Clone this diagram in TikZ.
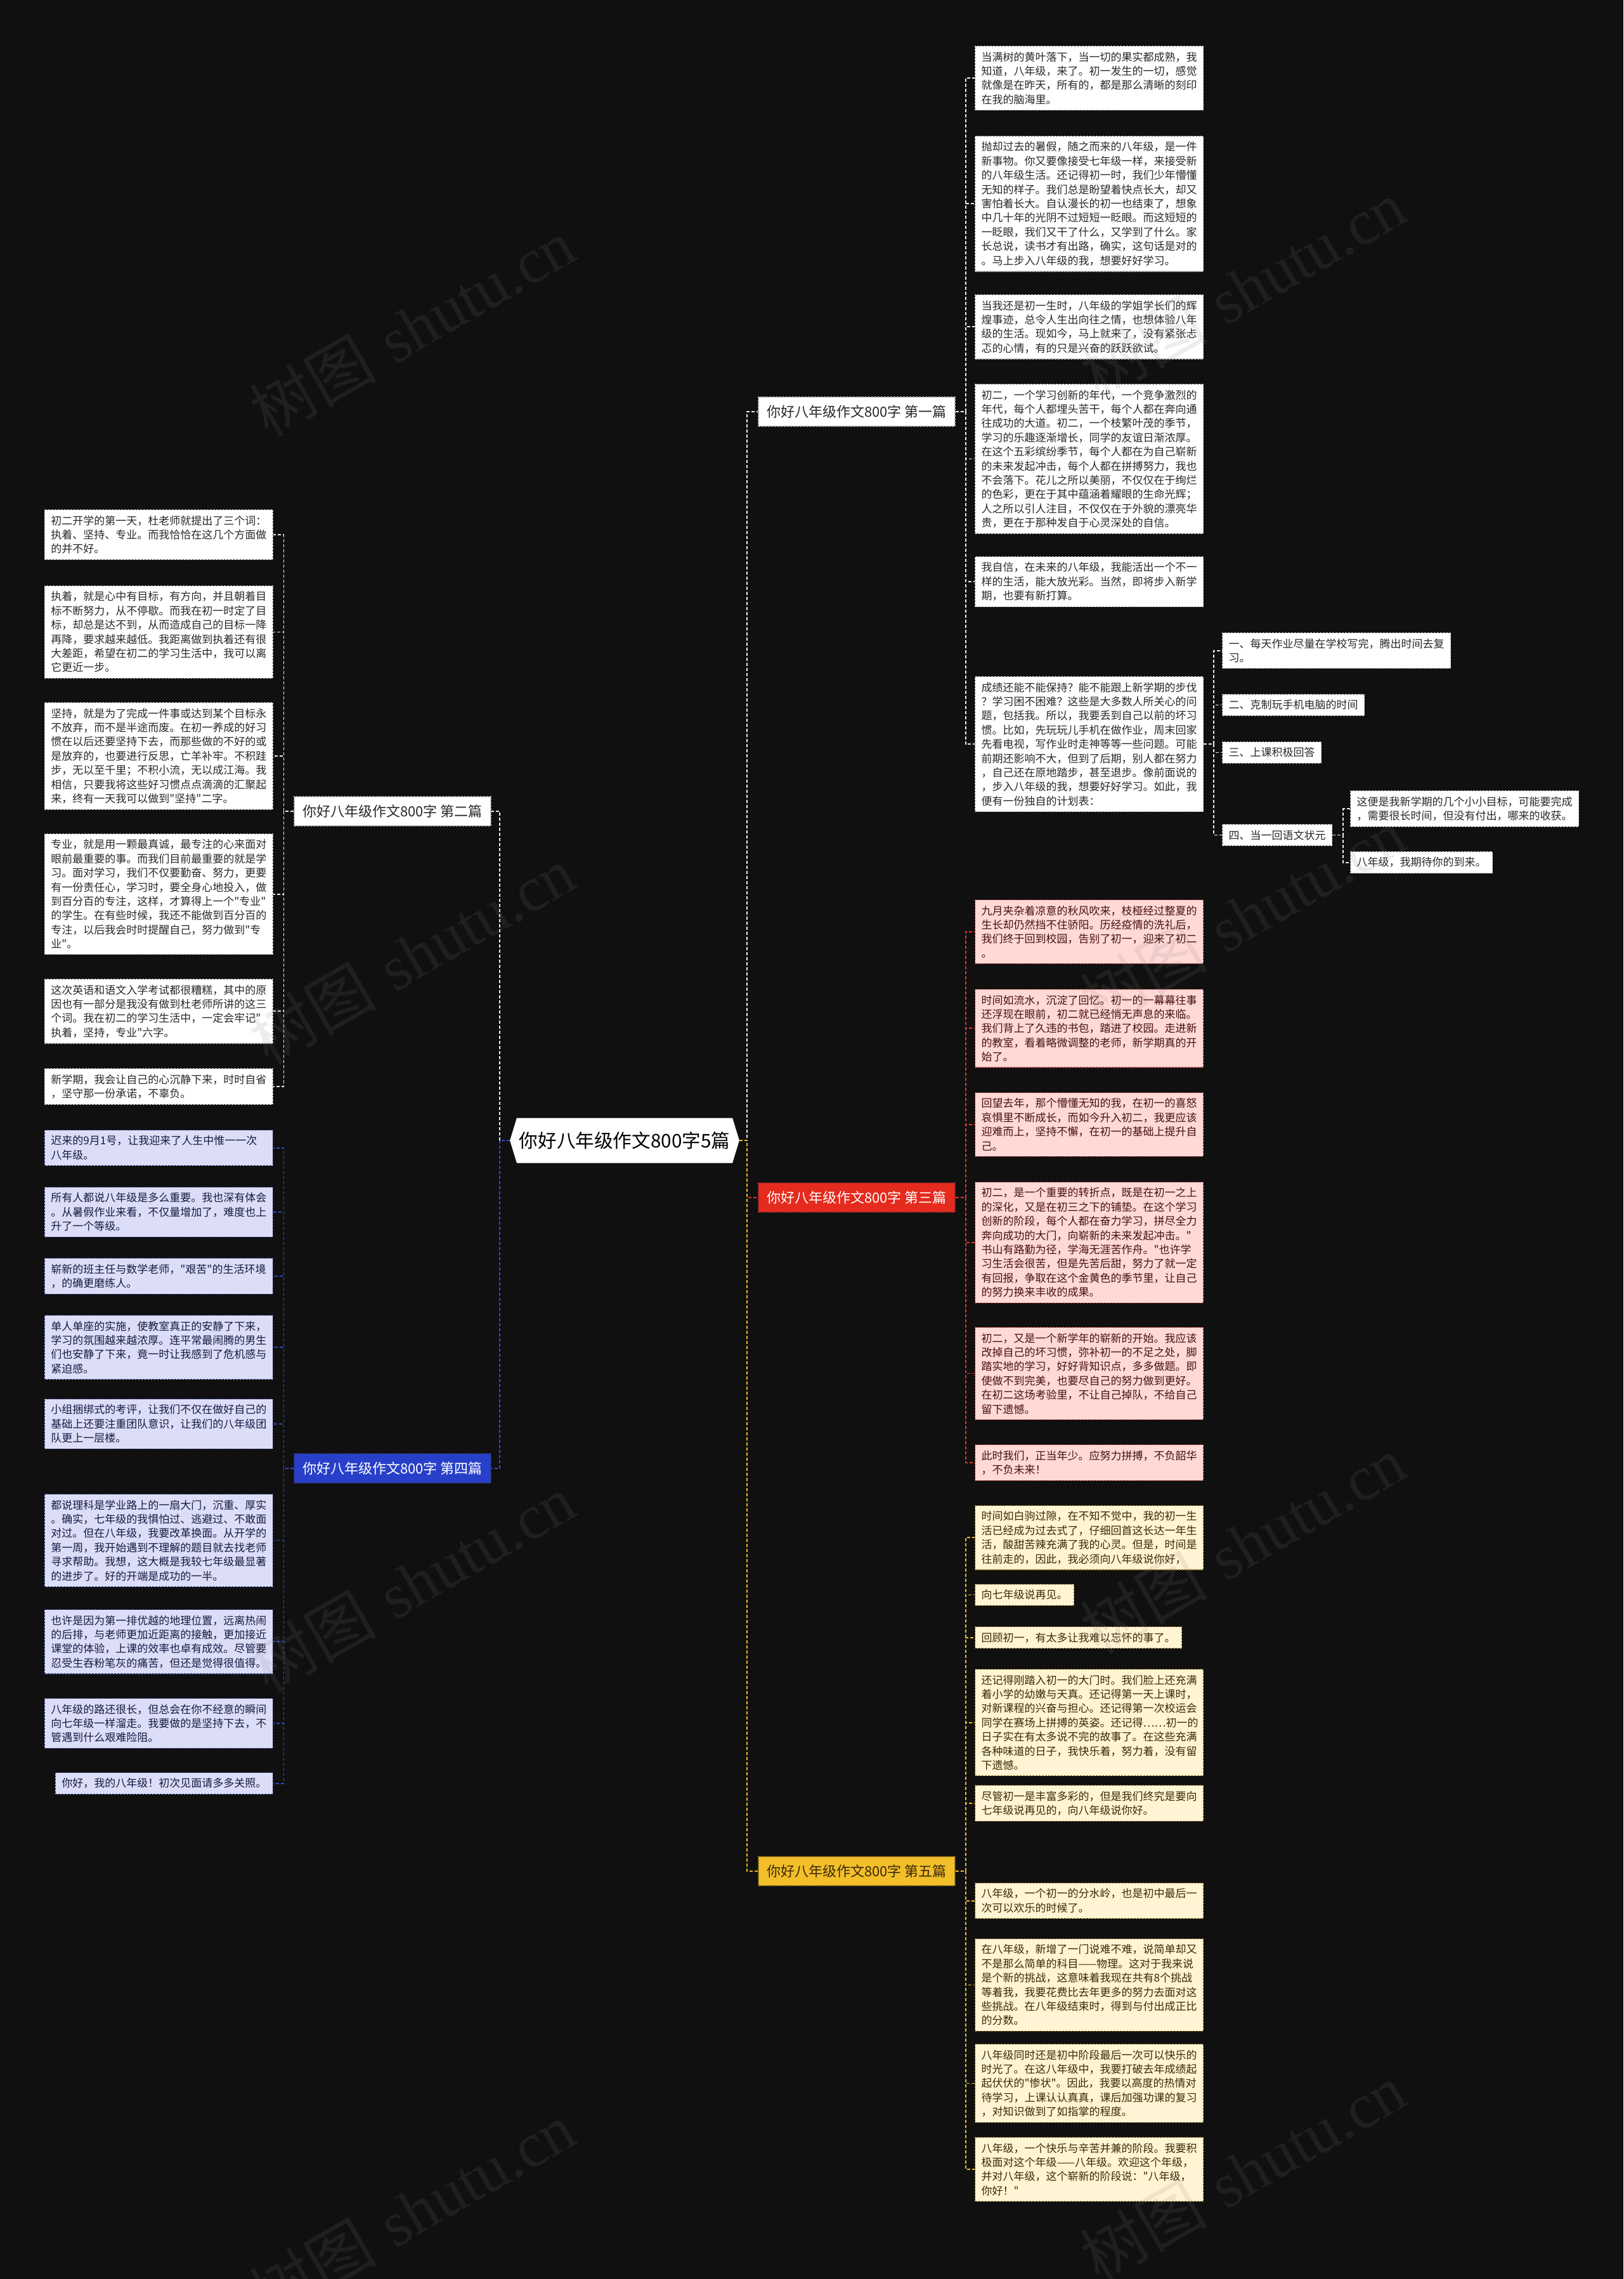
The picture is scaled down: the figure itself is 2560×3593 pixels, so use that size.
\documentclass[tikz,border=0pt]{standalone}
\usepackage{fontspec}
\newfontfamily\zhfont{Noto Sans CJK SC}
\newfontfamily\wmserif{Liberation Serif}
\usepackage{tikz}
\usetikzlibrary{shapes.symbols}

\definecolor{bgcol}{RGB}{16,16,16}
\definecolor{wline}{RGB}{235,235,235}
\definecolor{rline}{RGB}{226,52,40}
\definecolor{bline}{RGB}{47,74,208}
\definecolor{yline}{RGB}{236,186,46}
\definecolor{textdark}{RGB}{40,40,40}
\definecolor{pinkfill}{RGB}{255,217,214}
\definecolor{pinkedge}{RGB}{150,45,40}
\definecolor{pinktext}{RGB}{70,16,16}
\definecolor{yelfill}{RGB}{255,244,211}
\definecolor{yeledge}{RGB}{130,98,20}
\definecolor{yeltext}{RGB}{58,42,6}
\definecolor{bluefill}{RGB}{220,221,247}
\definecolor{blueedge}{RGB}{45,58,135}
\definecolor{bluetext}{RGB}{22,26,64}
\definecolor{redfill}{RGB}{229,42,30}
\definecolor{bluebox}{RGB}{40,64,201}
\definecolor{goldbox}{RGB}{242,190,42}

\begin{document}
\begin{tikzpicture}[x=0.5pt,y=-0.5pt,
  link/.style={dash pattern=on 2.5pt off 1.5pt,line width=0.9pt},
  leaf/.style={font=\zhfont\fontsize{8.5}{11.2}\selectfont,align=left,inner xsep=5pt,inner ysep=4.5pt,dash pattern=on 1.5pt off 1pt,line width=0.6pt,anchor=north west},
  fullw/.style={text width=170pt},
  wleaf/.style={leaf,fill=white,draw=gray!60,text=textdark},
  pleaf/.style={leaf,fill=pinkfill,draw=pinkedge,text=pinktext},
  yleaf/.style={leaf,fill=yelfill,draw=yeledge,text=yeltext},
  bleaf/.style={leaf,fill=bluefill,draw=blueedge,text=bluetext,anchor=north east},
  pian/.style={font=\zhfont\fontsize{11}{13}\selectfont,minimum width=155pt,minimum height=23pt,inner sep=0pt,dash pattern=on 1.5pt off 1pt,line width=0.6pt},
  wmark/.style={rotate=30,text=gray,opacity=0.14,font=\fontsize{50}{55}\selectfont}]
  \fill[bgcol] (0,0) rectangle (2560,3593);
  \useasboundingbox (0,0) rectangle (2560,3593);

  %root
  \node[signal,signal to=west and east,signal pointer angle=146,fill=white,text=black,
    font=\zhfont\fontsize{14.8}{17}\selectfont,minimum height=35.5pt,inner xsep=2pt] (root) at (985,1798) {你好八年级作文800字5篇};

  %branches
  \node[pian,fill=white,draw=gray!60,text=textdark] (pian1) at (1351,649) {你好八年级作文800字 第一篇};
  \node[pian,fill=white,draw=gray!60,text=textdark] (pian2) at (619,1279) {你好八年级作文800字 第二篇};
  \node[pian,fill=redfill,draw=pinkedge,text=white] (pian3) at (1351,1888) {你好八年级作文800字 第三篇};
  \node[pian,fill=bluebox,draw=blueedge,text=white] (pian4) at (619,2315) {你好八年级作文800字 第四篇};
  \node[pian,fill=goldbox,draw=yeledge,text=yeltext] (pian5) at (1351,2950) {你好八年级作文800字 第五篇};

  %first
  \node[wleaf,fullw] (a1) at (1537,72) {当满树的黄叶落下，当一切的果实都成熟，我\\知道，八年级，来了。初一发生的一切，感觉\\就像是在昨天，所有的，都是那么清晰的刻印\\在我的脑海里。};
  \node[wleaf,fullw] (a2) at (1537,214) {抛却过去的暑假，随之而来的八年级，是一件\\新事物。你又要像接受七年级一样，来接受新\\的八年级生活。还记得初一时，我们少年懵懂\\无知的样子。我们总是盼望着快点长大，却又\\害怕着长大。自认漫长的初一也结束了，想象\\中几十年的光阴不过短短一眨眼。而这短短的\\一眨眼，我们又干了什么，又学到了什么。家\\长总说，读书才有出路，确实，这句话是对的\\。马上步入八年级的我，想要好好学习。};
  \node[wleaf,fullw] (a3) at (1537,464) {当我还是初一生时，八年级的学姐学长们的辉\\煌事迹，总令人生出向往之情，也想体验八年\\级的生活。现如今，马上就来了，没有紧张忐\\忑的心情，有的只是兴奋的跃跃欲试。};
  \node[wleaf,fullw] (a4) at (1537,605) {初二，一个学习创新的年代，一个竞争激烈的\\年代，每个人都埋头苦干，每个人都在奔向通\\往成功的大道。初二，一个枝繁叶茂的季节，\\学习的乐趣逐渐增长，同学的友谊日渐浓厚。\\在这个五彩缤纷季节，每个人都在为自己崭新\\的未来发起冲击，每个人都在拼搏努力，我也\\不会落下。花儿之所以美丽，不仅仅在于绚烂\\的色彩，更在于其中蕴涵着耀眼的生命光辉；\\人之所以引人注目，不仅仅在于外貌的漂亮华\\贵，更在于那种发自于心灵深处的自信。};
  \node[wleaf,fullw] (a5) at (1537,877) {我自信，在未来的八年级，我能活出一个不一\\样的生活，能大放光彩。当然，即将步入新学\\期，也要有新打算。};
  \node[wleaf,fullw] (a6) at (1537,1066) {成绩还能不能保持？能不能跟上新学期的步伐\\？学习困不困难？这些是大多数人所关心的问\\题，包括我。所以，我要丢到自己以前的坏习\\惯。比如，先玩玩儿手机在做作业，周末回家\\先看电视，写作业时走神等等一些问题。可能\\前期还影响不大，但到了后期，别人都在努力\\，自己还在原地踏步，甚至退步。像前面说的\\，步入八年级的我，想要好好学习。如此，我\\便有一份独自的计划表：};
  \node[wleaf,fullw] (plan1) at (1927,997) {一、每天作业尽量在学校写完，腾出时间去复\\习。};
  \node[wleaf] (plan2) at (1927,1094) {二、克制玩手机电脑的时间};
  \node[wleaf] (plan3) at (1927,1169) {三、上课积极回答};
  \node[wleaf] (plan4) at (1927,1299) {四、当一回语文状元};
  \node[wleaf,fullw] (goal1) at (2129,1246) {这便是我新学期的几个小小目标，可能要完成\\，需要很长时间，但没有付出，哪来的收获。};
  \node[wleaf] (goal2) at (2129,1342) {八年级，我期待你的到来。};

  %second
  \node[wleaf,fullw,anchor=north east] (b1) at (431,803) {初二开学的第一天，杜老师就提出了三个词：\\执着、坚持、专业。而我恰恰在这几个方面做\\的并不好。};
  \node[wleaf,fullw,anchor=north east] (b2) at (431,923) {执着，就是心中有目标，有方向，并且朝着目\\标不断努力，从不停歇。而我在初一时定了目\\标，却总是达不到，从而造成自己的目标一降\\再降，要求越来越低。我距离做到执着还有很\\大差距，希望在初二的学习生活中，我可以离\\它更近一步。};
  \node[wleaf,fullw,anchor=north east] (b3) at (431,1107) {坚持，就是为了完成一件事或达到某个目标永\\不放弃，而不是半途而废。在初一养成的好习\\惯在以后还要坚持下去，而那些做的不好的或\\是放弃的，也要进行反思，亡羊补牢。不积跬\\步，无以至千里；不积小流，无以成江海。我\\相信，只要我将这些好习惯点点滴滴的汇聚起\\来，终有一天我可以做到"坚持"二字。};
  \node[wleaf,fullw,anchor=north east] (b4) at (431,1314) {专业，就是用一颗最真诚，最专注的心来面对\\眼前最重要的事。而我们目前最重要的就是学\\习。面对学习，我们不仅要勤奋、努力，更要\\有一份责任心，学习时，要全身心地投入，做\\到百分百的专注，这样，才算得上一个"专业"\\的学生。在有些时候，我还不能做到百分百的\\专注，以后我会时时提醒自己，努力做到"专\\业"。};
  \node[wleaf,fullw,anchor=north east] (b5) at (431,1543) {这次英语和语文入学考试都很糟糕，其中的原\\因也有一部分是我没有做到杜老师所讲的这三\\个词。我在初二的学习生活中，一定会牢记"\\执着，坚持，专业"六字。};
  \node[wleaf,fullw,anchor=north east] (b6) at (431,1684) {新学期，我会让自己的心沉静下来，时时自省\\，坚守那一份承诺，不辜负。};

  %third
  \node[pleaf,fullw] (c1) at (1537,1418) {九月夹杂着凉意的秋风吹来，枝桠经过整夏的\\生长却仍然挡不住骄阳。历经疫情的洗礼后，\\我们终于回到校园，告别了初一，迎来了初二\\。};
  \node[pleaf,fullw] (c2) at (1537,1559) {时间如流水，沉淀了回忆。初一的一幕幕往事\\还浮现在眼前，初二就已经悄无声息的来临。\\我们背上了久违的书包，踏进了校园。走进新\\的教室，看着略微调整的老师，新学期真的开\\始了。};
  \node[pleaf,fullw] (c3) at (1537,1722) {回望去年，那个懵懂无知的我，在初一的喜怒\\哀惧里不断成长，而如今升入初二，我更应该\\迎难而上，坚持不懈，在初一的基础上提升自\\己。};
  \node[pleaf,fullw] (c4) at (1537,1863) {初二，是一个重要的转折点，既是在初一之上\\的深化，又是在初三之下的铺垫。在这个学习\\创新的阶段，每个人都在奋力学习，拼尽全力\\奔向成功的大门，向崭新的未来发起冲击。"\\书山有路勤为径，学海无涯苦作舟。"也许学\\习生活会很苦，但是先苦后甜，努力了就一定\\有回报，争取在这个金黄色的季节里，让自己\\的努力换来丰收的成果。};
  \node[pleaf,fullw] (c5) at (1537,2092) {初二，又是一个新学年的崭新的开始。我应该\\改掉自己的坏习惯，弥补初一的不足之处，脚\\踏实地的学习，好好背知识点，多多做题。即\\使做不到完美，也要尽自己的努力做到更好。\\在初二这场考验里，不让自己掉队，不给自己\\留下遗憾。};
  \node[pleaf,fullw] (c6) at (1537,2277) {此时我们，正当年少。应努力拼搏，不负韶华\\，不负未来！};

  %fourth
  \node[bleaf,fullw] (d1) at (431,1781) {迟来的9月1号，让我迎来了人生中惟一一次\\八年级。};
  \node[bleaf,fullw] (d2) at (431,1871) {所有人都说八年级是多么重要。我也深有体会\\。从暑假作业来看，不仅量增加了，难度也上\\升了一个等级。};
  \node[bleaf,fullw] (d3) at (431,1983) {崭新的班主任与数学老师，"艰苦"的生活环境\\，的确更磨练人。};
  \node[bleaf,fullw] (d4) at (431,2073) {单人单座的实施，使教室真正的安静了下来，\\学习的氛围越来越浓厚。连平常最闹腾的男生\\们也安静了下来，竟一时让我感到了危机感与\\紧迫感。};
  \node[bleaf,fullw] (d5) at (431,2205) {小组捆绑式的考评，让我们不仅在做好自己的\\基础上还要注重团队意识，让我们的八年级团\\队更上一层楼。};
  \node[bleaf,fullw] (d6) at (431,2355) {都说理科是学业路上的一扇大门，沉重、厚实\\。确实，七年级的我惧怕过、逃避过、不敢面\\对过。但在八年级，我要改革换面。从开学的\\第一周，我开始遇到不理解的题目就去找老师\\寻求帮助。我想，这大概是我较七年级最显著\\的进步了。好的开端是成功的一半。};
  \node[bleaf,fullw] (d7) at (431,2537) {也许是因为第一排优越的地理位置，远离热闹\\的后排，与老师更加近距离的接触，更加接近\\课堂的体验，上课的效率也卓有成效。尽管要\\忍受生吞粉笔灰的痛苦，但还是觉得很值得。};
  \node[bleaf,fullw] (d8) at (431,2677) {八年级的路还很长，但总会在你不经意的瞬间\\向七年级一样溜走。我要做的是坚持下去，不\\管遇到什么艰难险阻。};
  \node[bleaf] (d9) at (431,2794) {你好，我的八年级！初次见面请多多关照。};

  %fifth
  \node[yleaf,fullw] (e1) at (1537,2373) {时间如白驹过隙，在不知不觉中，我的初一生\\活已经成为过去式了，仔细回首这长达一年生\\活，酸甜苦辣充满了我的心灵。但是，时间是\\往前走的，因此，我必须向八年级说你好，};
  \node[yleaf] (e2) at (1537,2497) {向七年级说再见。};
  \node[yleaf] (e3) at (1537,2564) {回顾初一，有太多让我难以忘怀的事了。};
  \node[yleaf,fullw] (e4) at (1537,2631) {还记得刚踏入初一的大门时。我们脸上还充满\\着小学的幼嫩与天真。还记得第一天上课时，\\对新课程的兴奋与担心。还记得第一次校运会\\同学在赛场上拼搏的英姿。还记得……初一的\\日子实在有太多说不完的故事了。在这些充满\\各种味道的日子，我快乐着，努力着，没有留\\下遗憾。};
  \node[yleaf,fullw] (e5) at (1537,2814) {尽管初一是丰富多彩的，但是我们终究是要向\\七年级说再见的，向八年级说你好。};
  \node[yleaf,fullw] (e6) at (1537,2968) {八年级，一个初一的分水岭，也是初中最后一\\次可以欢乐的时候了。};
  \node[yleaf,fullw] (e7) at (1537,3056) {在八年级，新增了一门说难不难，说简单却又\\不是那么简单的科目——物理。这对于我来说\\是个新的挑战，这意味着我现在共有8个挑战\\等着我，我要花费比去年更多的努力去面对这\\些挑战。在八年级结束时，得到与付出成正比\\的分数。};
  \node[yleaf,fullw] (e8) at (1537,3222) {八年级同时还是初中阶段最后一次可以快乐的\\时光了。在这八年级中，我要打破去年成绩起\\起伏伏的"惨状"。因此，我要以高度的热情对\\待学习，上课认认真真，课后加强功课的复习\\，对知识做到了如指掌的程度。};
  \node[yleaf,fullw] (e9) at (1537,3369) {八年级，一个快乐与辛苦并兼的阶段。我要积\\极面对这个年级——八年级。欢迎这个年级，\\并对八年级，这个崭新的阶段说："八年级，\\你好！"};

  %links
  \draw[link,wline] (root.east) -- ++(12,0) |- (pian1.west);
  \draw[link,rline] (root.east) -- ++(12,0) |- (pian3.west);
  \draw[link,yline] (root.east) -- ++(12,0) |- (pian5.west);
  \draw[link,wline] (root.west) -- ++(-16,0) |- (pian2.east);
  \draw[link,bline] (root.west) -- ++(-16,0) |- (pian4.east);
  \foreach \i in {1,...,6} {
    \draw[link,wline] (pian1.east) -- ++(16,0) |- (a\i.west);
    \draw[link,wline] (pian2.west) -- ++(-16,0) |- (b\i.east);
    \draw[link,rline] (pian3.east) -- ++(16,0) |- (c\i.west);
  }
  \foreach \i in {1,...,4}
    \draw[link,wline] (a6.east) -- ++(16,0) |- (plan\i.west);
  \foreach \i in {1,2}
    \draw[link,wline] (plan4.east) -- ++(17,0) |- (goal\i.west);
  \foreach \i in {1,...,9} {
    \draw[link,bline] (pian4.west) -- ++(-16,0) |- (d\i.east);
    \draw[link,yline] (pian5.east) -- ++(16,0) |- (e\i.west);
  }

  %watermarks
  \foreach \k in {0,...,3} {
    \node[wmark] (wl\k) at (650,516+990*\k) {{\zhfont 树图} {\wmserif shutu.cn}};
    \node[wmark] (wr\k) at (1960,455+990*\k) {{\zhfont 树图} {\wmserif shutu.cn}};
  }
\end{tikzpicture}
\end{document}
